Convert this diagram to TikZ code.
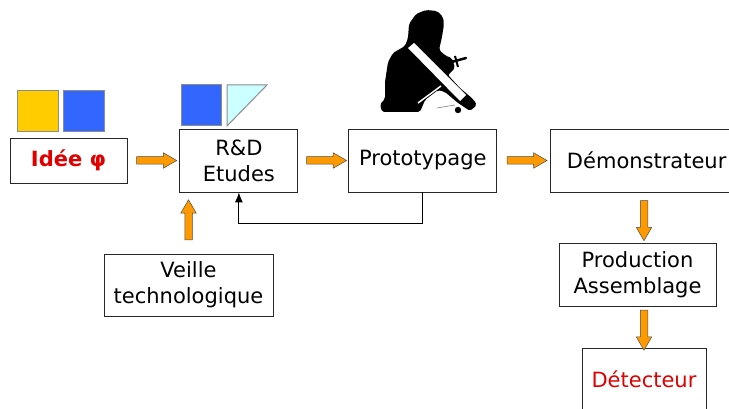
\documentclass[tikz,border=0pt]{standalone}
\usepackage{fontspec}
\setmainfont{DejaVu Sans}
\usetikzlibrary{arrows.meta, positioning, shapes.arrows}

\definecolor{ideared}{HTML}{E00000}
\definecolor{flowarrow}{HTML}{FF9900}
\definecolor{tileyellow}{HTML}{FFCC00}
\definecolor{tileblue}{HTML}{3366FF}
\definecolor{tilecyan}{HTML}{CCFFFF}

\begin{document}
\begin{tikzpicture}[
  x=1pt, y=-1pt,
  stage/.style={rectangle, draw=black!85, line width=0.9pt, fill=white,
                font=\fontsize{21}{26}\selectfont, align=center,
                inner sep=0pt, minimum height=63pt},
  flow/.style={single arrow, draw=black!70, line width=0.5pt, fill=flowarrow,
               minimum height=40pt, minimum width=0pt, inner sep=3.5pt,
               single arrow head extend=4pt, single arrow tip angle=60},
  tile/.style={draw=black!45, line width=1pt}
]
  \useasboundingbox (0,0) rectangle (729,409);

  \node[stage, minimum width=117pt, minimum height=45pt, text=ideared,
        font=\fontsize{21}{26}\selectfont\bfseries] (idee) at (68.5,160.5) {Idée φ};
  \node[stage, minimum width=118pt, right=52pt of idee] (rd) {R\&D\\Etudes};
  \node[stage, minimum width=148pt, right=50pt of rd] (proto) {Prototypage};
  \node[stage, minimum width=192pt, right=53pt of proto] (demo) {Démonstrateur};
  \node[stage, minimum width=157pt] (prod) at (637.5,274.5) {Production\\Assemblage};
  \node[stage, minimum width=124pt, minimum height=62pt, text=ideared] (det) at (644,379) {Détecteur};
  \node[stage, minimum width=169pt, minimum height=62pt] (veille) at (188.5,285) {Veille\\technologique};

  % coloured tiles above the first two stages
  \draw[tile, fill=tileyellow] (17,91) rectangle (58,132);
  \draw[tile, fill=tileblue] (63,91) rectangle (104,132);
  \draw[tile, fill=tileblue] (181,85) rectangle (221,126);
  \draw[tile, fill=tilecyan] (227,85) -- (267,85) -- (227,126) -- cycle;

  \path (idee) -- node[flow] {} (rd);
  \path (rd) -- node[flow] {} (proto);
  \path (proto) -- node[flow] {} (demo);
  \path (veille.north) -- node[flow, rotate=90] {} (veille.north |- rd.south);
  \path (det.north |- demo.south) -- node[flow, rotate=-90] {} (det.north |- prod.north);
  \path (det.north |- prod.south) -- node[flow, rotate=-90] {} (det.north);

  \draw[line width=0.9pt, -{Latex[length=10pt, width=8pt]}]
    (proto.south) -- ++(0,31) -| (rd.south);

  % man at the bench
  \fill[black, rounded corners=2pt] (409,24) -- (416,14) -- (426,10) -- (437,11)
    -- (443,17) -- (444,24) -- (442,37)
    -- (439,50) -- (446,56) -- (452,58) -- (455,68) -- (448,75) -- (460,88)
    -- (473,99) -- (477,105) -- (470,111) -- (458,103) -- (445,92) -- (438,90)
    -- (425,100) -- (420,112) -- (382,112) -- (380,104) -- (385,99) -- (385,82)
    -- (388,62) -- (393,53) -- (405,46) -- (408,38) -- cycle;
  \fill[white] (408,48) -- (414,43) -- (466,95) -- (460,101) -- cycle;
  \draw[white, line width=1.5pt] (418,103) -- (441,86);
  \draw[black, line width=2.5pt, line cap=round] (448,63) -- (466,58);
  \draw[black, line width=2pt] (455,56) -- (458,67);
  \draw[black!50, line width=0.6pt] (437,108) -- (455,105);
  \fill[black] (458,110) circle (3.2);
\end{tikzpicture}
\end{document}
